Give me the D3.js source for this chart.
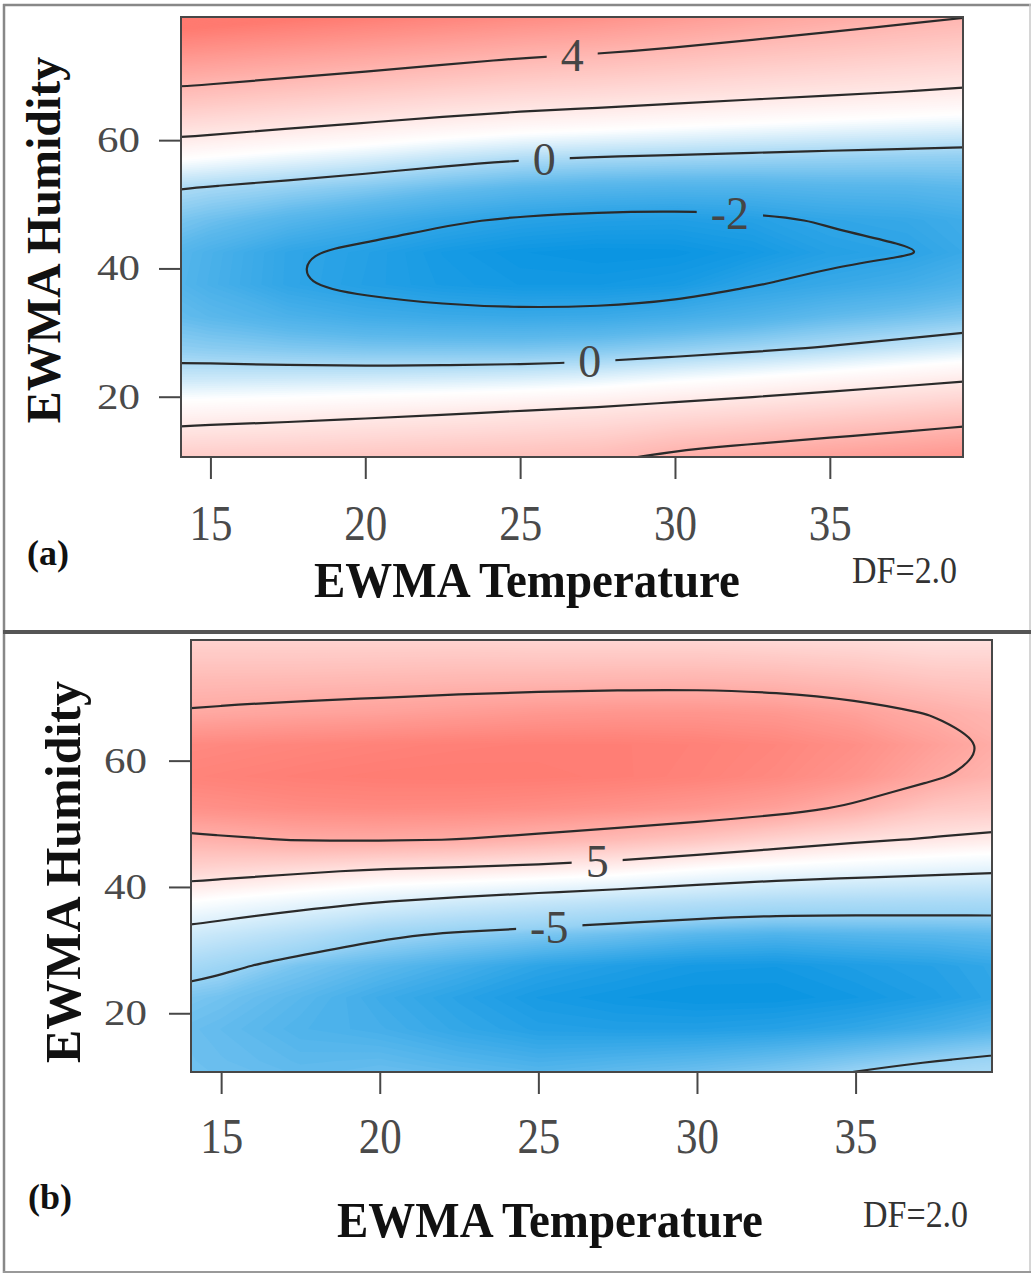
<!DOCTYPE html>
<html>
<head>
<meta charset="utf-8">
<script src="https://cdn.jsdelivr.net/npm/d3@7"></script>
<style>
  body { margin: 0; background: #fff; }
  svg { display: block; }
  text { font-family: "Liberation Serif", "Times New Roman", serif; }
</style>
</head>
<body>
<div id="chart"></div>
<script>
// grid cell centres of the two fitted surfaces
const tempCenters = [15, 17.5, 20, 22.5, 25, 27.5, 30, 32.5, 35, 37.5, 40];
const humRows = [77.5, 72.5, 67.5, 62.5, 57.5, 52.5, 47.5, 42.5, 37.5, 32.5, 27.5, 22.5, 17.5, 12.5];

const xTicks = [15, 20, 25, 30, 35];
const yTicks = [20, 40, 60];

// (a) one row per humidity value, top row = 77.5
const effectA = [
  [6.35, 6.08, 5.81, 5.54, 5.27, 5.05, 4.73, 4.41, 4.13, 3.88, 3.66],
  [5.00, 4.73, 4.46, 4.19, 3.93, 3.75, 3.54, 3.31, 3.12, 2.93, 2.76],
  [3.68, 3.43, 3.19, 2.95, 2.75, 2.61, 2.44, 2.27, 2.12, 1.98, 1.83],
  [2.43, 2.18, 1.95, 1.71, 1.51, 1.38, 1.23, 1.10, 0.98, 0.87, 0.77],
  [1.15, 0.90, 0.67, 0.39, 0.16, 0.03, -0.05, -0.13, -0.20, -0.26, -0.32],
  [-0.07, -0.29, -0.54, -0.84, -1.09, -1.23, -1.30, -1.28, -1.18, -1.15, -1.02],
  [-0.80, -1.19, -1.54, -1.88, -2.12, -2.25, -2.29, -2.18, -1.94, -1.83, -1.58],
  [-1.40, -1.94, -2.19, -2.50, -2.70, -2.78, -2.75, -2.55, -2.19, -2.05, -1.67],
  [-1.44, -1.95, -2.22, -2.44, -2.57, -2.57, -2.46, -2.04, -1.80, -1.57, -1.22],
  [-1.07, -1.38, -1.61, -1.73, -1.78, -1.74, -1.56, -1.30, -0.97, -0.74, -0.49],
  [-0.42, -0.54, -0.63, -0.65, -0.66, -0.56, -0.36, -0.15, 0.09, 0.35, 0.61],
  [0.48, 0.51, 0.55, 0.60, 0.68, 0.82, 1.06, 1.28, 1.52, 1.77, 2.03],
  [1.57, 1.67, 1.80, 1.92, 2.08, 2.24, 2.47, 2.68, 2.92, 3.18, 3.46],
  [2.70, 2.80, 2.92, 3.05, 3.18, 3.34, 3.77, 4.03, 4.31, 4.59, 4.90]
];

// (b) same layout
const effectB = [
  [7.04, 7.01, 7.04, 7.08, 6.96, 6.96, 6.95, 6.69, 6.39, 5.90, 5.90],
  [8.74, 8.81, 8.94, 9.08, 9.16, 9.26, 9.30, 9.09, 8.59, 7.86, 7.60],
  [10.40, 10.75, 11.00, 11.40, 11.80, 12.00, 12.05, 11.80, 11.02, 9.85, 8.90],
  [13.21, 13.48, 13.74, 13.95, 14.06, 14.06, 13.84, 13.39, 12.60, 11.10, 9.50],
  [13.77, 14.08, 14.27, 14.34, 14.28, 14.10, 13.71, 13.12, 12.08, 10.30, 8.90],
  [12.58, 12.97, 13.10, 13.02, 12.77, 12.35, 11.83, 11.05, 9.57, 7.63, 7.10],
  [9.61, 10.15, 10.23, 9.98, 9.35, 8.63, 7.70, 6.46, 5.42, 4.75, 4.13],
  [6.01, 5.38, 4.62, 4.33, 3.84, 3.20, 2.20, 1.47, 0.98, 0.51, 0.16],
  [1.95, 0.89, -0.09, -1.00, -1.73, -2.33, -2.93, -3.43, -3.60, -3.72, -3.82],
  [-1.57, -2.90, -4.55, -5.31, -5.87, -6.40, -7.00, -7.29, -7.09, -6.96, -6.72],
  [-4.48, -6.05, -6.90, -7.63, -8.37, -8.81, -9.16, -9.23, -8.88, -8.59, -8.09],
  [-6.20, -7.00, -7.85, -8.50, -9.10, -9.38, -9.56, -9.54, -9.26, -8.82, -8.18],
  [-6.70, -7.30, -7.60, -8.20, -8.67, -8.78, -8.78, -8.60, -8.23, -7.67, -6.99],
  [-6.50, -6.90, -6.80, -7.20, -7.55, -7.30, -7.02, -6.55, -5.80, -5.05, -4.40]
];

const levelsA = [-2, 0, 2, 4];
const levelsB = [-5, 0, 5, 10];

const width = 1032;
const height = 1274;
const blue = "#0894e2";
const red = "#ff7a70";

const panels = [
  {
    id: "a", tag: "(a)", grid: effectA, levels: levelsA,
    left: 181, top: 17, right: 963, bottom: 457,
    xDomain: [14.05, 39.3], yDomain: [10.6, 79.2],
    colorStops: [-2.8, -1, 1.1, 6.4],
    colorRange: [blue, "#5eb9ec", "#ffffff", red],
    labels: [
      { level: 4, at: 26.7, near: 73 },
      { level: 0, at: 25.8, near: 57 },
      { level: -2, at: 31.8, near: 49 },
      { level: 0, at: 27.3, near: 25 }
    ],
    yTickText: -41, xTickBase: 83,
    xTitle: [527, 597], yTitle: [60, 240, 48],
    tagPos: [27, 565], dfPos: [852, 583]
  },
  {
    id: "b", tag: "(b)", grid: effectB, levels: levelsB,
    left: 191, top: 640, right: 992, bottom: 1072,
    xDomain: [14.05, 39.3], yDomain: [10.7, 79.1],
    colorStops: [-9.6, -5, 2.5, 14.5],
    colorRange: [blue, "#97d2f4", "#ffffff", red],
    labels: [
      { level: 5, at: 26.9, near: 43.6 },
      { level: -5, at: 25.3, near: 33.8 }
    ],
    yTickText: -44, xTickBase: 81,
    xTitle: [550, 1237], yTitle: [80, 872, 50],
    tagPos: [28, 1209], dfPos: [863, 1227]
  }
];

const svg = d3.select("#chart")
    .append("svg")
    .attr("width", width)
    .attr("height", height);

svg.append("rect")
    .attr("width", width)
    .attr("height", height)
    .attr("fill", "#fff");

const defs = svg.append("defs");

// the drawing grid gets one extra cell on every side (edge carried straight on),
// so the border of the marching-squares grid falls outside the plot
const nx = tempCenters.length + 2;
const ny = humRows.length + 2;
const tStep = tempCenters[1] - tempCenters[0];
const hStep = humRows[1] - humRows[0];
const t0 = tempCenters[0] - 1.5 * tStep;
const h0 = humRows[0] - 1.5 * hStep;

function padGrid(rows) {
  const wide = rows.map(r => [2 * r[0] - r[1], ...r, 2 * r[r.length - 1] - r[r.length - 2]]);
  const n = wide.length;
  const first = wide[0].map((v, k) => 2 * v - wide[1][k]);
  const last = wide[n - 1].map((v, k) => 2 * v - wide[n - 2][k]);
  return [first, ...wide, last];
}

const sameSide = (a, b) =>
    (a[0] === 0 && b[0] === 0) || (a[0] === nx && b[0] === nx) ||
    (a[1] === 0 && b[1] === 0) || (a[1] === ny && b[1] === ny);

// split contour rings into the pieces that are real lines (not the grid border)
function contourRuns(geom) {
  const runs = [];
  geom.coordinates.forEach(poly => poly.forEach(ring => {
    const pts = ring.slice(0, -1).map(q => q.slice());
    const n = pts.length;
    const edgeSeg = pts.map((q, k) => sameSide(q, pts[(k + 1) % n]));
    if (!edgeSeg.some(Boolean)) {
      runs.push({ closed: true, pts });
      return;
    }
    const start = edgeSeg.findIndex(Boolean);
    let cur = null;
    for (let s = 1; s <= n; s++) {
      const k = (start + s) % n;
      if (edgeSeg[k]) {
        if (cur) { runs.push({ closed: false, pts: cur }); cur = null; }
      } else {
        if (!cur) cur = [pts[k].slice()];
        cur.push(pts[(k + 1) % n].slice());
      }
    }
    if (cur) runs.push({ closed: false, pts: cur });
  }));
  return runs;
}

// drop crossing points that crowd their neighbour
function thin(pts, closed, gx, gy, minGap) {
  const out = [pts[0]];
  for (let k = 1; k < pts.length; k++) {
    const last = out[out.length - 1];
    const d = Math.hypot(gx(pts[k][0]) - gx(last[0]), gy(pts[k][1]) - gy(last[1]));
    const isEnd = !closed && k === pts.length - 1;
    if (d >= minGap || isEnd) out.push(pts[k]);
  }
  return out;
}

panels.forEach(drawPanel);

function drawPanel(p) {
  const x = d3.scaleLinear().domain(p.xDomain).range([p.left, p.right]);
  const y = d3.scaleLinear().domain(p.yDomain).range([p.bottom, p.top]);
  const gx = g => x(t0 + tStep * g);
  const gy = g => y(h0 + hStep * g);

  const values = padGrid(p.grid).flat();
  const color = d3.scaleLinear().domain(p.colorStops).range(p.colorRange).clamp(true);

  defs.append("clipPath").attr("id", "clip-" + p.id)
    .append("rect")
    .attr("x", p.left).attr("y", p.top)
    .attr("width", p.right - p.left).attr("height", p.bottom - p.top);

  const plot = svg.append("g").attr("clip-path", `url(#clip-${p.id})`);

  // shaded surface: many thin filled bands
  const proj = d3.geoTransform({
    point(px, py) { this.stream.point(gx(px), gy(py)); }
  });
  const path = d3.geoPath(proj);
  const [vmin, vmax] = d3.extent(values);
  const step = (vmax - vmin) / 150;
  const bands = d3.range(vmin - 1e-6, vmax, step);
  plot.append("g")
    .selectAll("path")
    .data(d3.contours().size([nx, ny]).thresholds(bands)(values))
    .join("path")
    .attr("d", path)
    .attr("fill", d => color(d.value + step / 2))
    .attr("stroke", "none");

  // contour lines
  const mask = defs.append("mask").attr("id", "gap-" + p.id)
    .attr("maskUnits", "userSpaceOnUse")
    .attr("x", 0).attr("y", 0).attr("width", width).attr("height", height);
  mask.append("rect").attr("width", width).attr("height", height).attr("fill", "#fff");

  const lines = plot.append("g").attr("mask", `url(#gap-${p.id})`);
  const drawn = [];
  p.levels.forEach(level => {
    const geom = d3.contours().size([nx, ny]).thresholds([level])(values)[0];
    contourRuns(geom).forEach(run => {
      const pts = thin(run.pts, run.closed, gx, gy, 5);
      const line = d3.line()
        .x(d => gx(d[0]))
        .y(d => gy(d[1]))
        .curve(run.closed ? d3.curveBasisClosed : d3.curveBasis);
      const node = lines.append("path")
        .attr("d", line(pts))
        .attr("fill", "none")
        .attr("stroke", "#2a2a2a")
        .attr("stroke-width", 2.2)
        .node();
      drawn.push({ level, node });
    });
  });

  // contour labels sitting in a gap of their line
  p.labels.forEach(lb => {
    const X = x(lb.at), Y = y(lb.near);
    let best = null;
    drawn.filter(d => d.level === lb.level).forEach(d => {
      const L = d.node.getTotalLength();
      for (let s = 0; s <= L; s += 1) {
        const pt = d.node.getPointAtLength(s);
        if (Math.abs(pt.x - X) < 1.5) {
          const dist = Math.abs(pt.y - Y);
          if (!best || dist < best.dist) best = { x: pt.x, y: pt.y, dist };
        }
      }
    });
    if (!best) return;
    const t = plot.append("text")
      .attr("x", best.x)
      .attr("y", best.y)
      .attr("dy", "0.34em")
      .attr("text-anchor", "middle")
      .attr("font-size", 46)
      .attr("fill", "#454545")
      .text(String(lb.level));
    const w = t.node().getComputedTextLength();
    mask.append("rect")
      .attr("x", best.x - w / 2 - 14)
      .attr("y", best.y - 8)
      .attr("width", w + 28)
      .attr("height", 16)
      .attr("fill", "#000");
  });

  // plot frame
  svg.append("rect")
    .attr("x", p.left).attr("y", p.top)
    .attr("width", p.right - p.left).attr("height", p.bottom - p.top)
    .attr("fill", "none")
    .attr("stroke", "#474747")
    .attr("stroke-width", 2);

  // axes
  const xAxis = svg.append("g")
    .attr("transform", `translate(0,${p.bottom})`)
    .call(d3.axisBottom(x).tickValues(xTicks).tickSize(22).tickFormat(d3.format("d")));
  xAxis.select(".domain").remove();
  xAxis.selectAll(".tick line").attr("stroke", "#474747").attr("stroke-width", 2);
  xAxis.selectAll(".tick text")
    .attr("y", null).attr("dy", null)
    .attr("transform", `translate(0,${p.xTickBase}) scale(1,1.2)`)
    .attr("font-size", 43)
    .attr("fill", "#4a4a4a");

  const yAxis = svg.append("g")
    .attr("transform", `translate(${p.left},0)`)
    .call(d3.axisLeft(y).tickValues(yTicks).tickSize(22).tickFormat(d3.format("d")));
  yAxis.select(".domain").remove();
  yAxis.selectAll(".tick line").attr("stroke", "#474747").attr("stroke-width", 2);
  yAxis.selectAll(".tick text")
    .attr("x", null).attr("dy", null)
    .attr("transform", `translate(${p.yTickText},11.5) scale(1,0.83)`)
    .attr("font-size", 43)
    .attr("fill", "#4a4a4a");

  // titles and notes
  svg.append("text")
    .attr("transform", `translate(${p.xTitle[0]},${p.xTitle[1]}) scale(1,1.08)`)
    .attr("text-anchor", "middle")
    .attr("font-size", 47)
    .attr("font-weight", "bold")
    .attr("fill", "#111")
    .text("EWMA Temperature");

  svg.append("text")
    .attr("transform", `translate(${p.yTitle[0]},${p.yTitle[1]}) rotate(-90)`)
    .attr("text-anchor", "middle")
    .attr("font-size", p.yTitle[2])
    .attr("font-weight", "bold")
    .attr("fill", "#111")
    .text("EWMA Humidity");

  svg.append("text")
    .attr("x", p.tagPos[0]).attr("y", p.tagPos[1])
    .attr("font-size", 36)
    .attr("font-weight", "bold")
    .attr("fill", "#111")
    .text(p.tag);

  svg.append("text")
    .attr("transform", `translate(${p.dfPos[0]},${p.dfPos[1]}) scale(1,1.1)`)
    .attr("font-size", 34)
    .attr("fill", "#333")
    .text("DF=2.0");
}

// outer frame of the figure
svg.append("line").attr("x1", 3).attr("x2", 1031).attr("y1", 5).attr("y2", 5)
    .attr("stroke", "#888").attr("stroke-width", 2.5);
svg.append("line").attr("x1", 4).attr("x2", 4).attr("y1", 4).attr("y2", 1273)
    .attr("stroke", "#888").attr("stroke-width", 2.5);
svg.append("line").attr("x1", 1030).attr("x2", 1030).attr("y1", 4).attr("y2", 1273)
    .attr("stroke", "#c8c8c8").attr("stroke-width", 1.5);
svg.append("line").attr("x1", 3).attr("x2", 1031).attr("y1", 632).attr("y2", 632)
    .attr("stroke", "#555").attr("stroke-width", 4);
svg.append("line").attr("x1", 3).attr("x2", 1031).attr("y1", 1272).attr("y2", 1272)
    .attr("stroke", "#999").attr("stroke-width", 2);
</script>
</body>
</html>
